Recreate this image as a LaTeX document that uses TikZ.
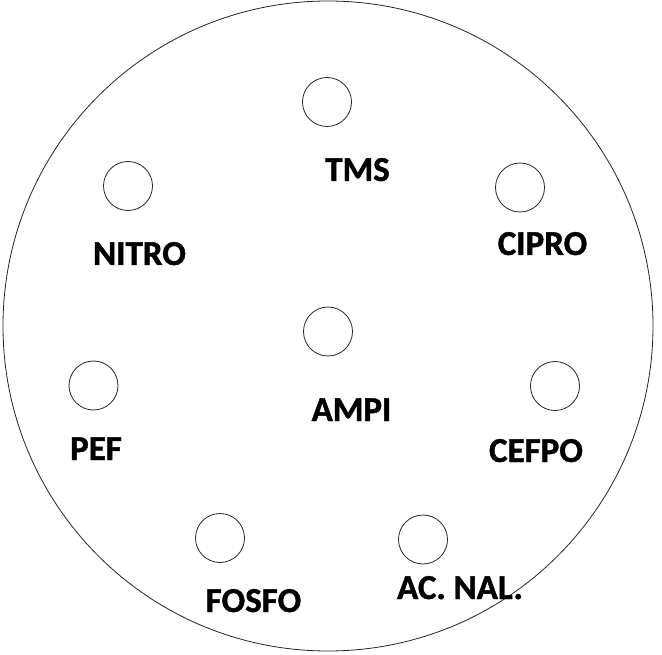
\documentclass[tikz,border=0pt]{standalone}
\usepackage{fontspec}
\setmainfont{Carlito}[BoldFont={Carlito Bold},BoldFeatures={FakeBold=1.2}]
\begin{document}
\begin{tikzpicture}[x=1pt,y=-1pt,
  disc/.style={draw=black!85, line width=0.8pt, circle, minimum size=49pt, inner sep=0pt},
  lbl/.style={anchor=base, inner sep=0pt, font=\fontsize{35}{40}\selectfont\bfseries},
  plate/.style={draw=black!85, line width=0.8pt}]
\useasboundingbox (0,0) rectangle (662,655);
\fill[white] (0,0) rectangle (662,655);
\node[plate, circle, minimum size=650pt, inner sep=0pt] (plate) at (328,326) {};
% wells
\node[disc] (tms) at (327,102) {};
\node[disc] (nitro) at (128,186) {};
\node[disc] (cipro) at (520,187.5) {};
\node[disc] (ampi) at (328,331.5) {};
\node[disc] (pef) at (93.5,385.5) {};
\node[disc] (cefpo) at (555,386) {};
\node[disc] (fosfo) at (220,538) {};
\node[disc] (acnal) at (423,539.5) {};
% labels
\node[lbl] (ltms) at (357.5,181) {TMS};
\node[lbl] (lnitro) at (139.5,265) {NITRO};
\node[lbl] (lcipro) at (542.5,255) {CIPRO};
\node[lbl] (lampi) at (351.5,421) {AMPI};
\node[lbl] (lpef) at (96,460) {PEF};
\node[lbl] (lcefpo) at (536,462) {CEFPO};
\node[lbl] (lfosfo) at (253.5,612) {FOSFO};
\node[lbl] (lacnal) at (460,599) {AC. NAL.};
\end{tikzpicture}
\end{document}
